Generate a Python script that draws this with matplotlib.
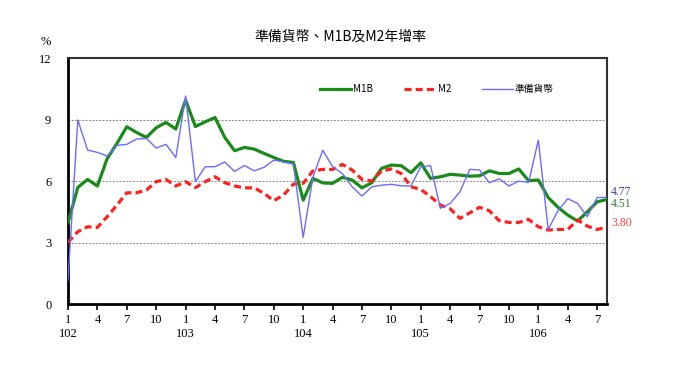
import matplotlib.pyplot as plt
import numpy as np

# 102年1月 ~ 106年8月 (月資料)
years = [102, 103, 104, 105, 106]

m1b = [3.97, 5.69, 6.08, 5.76, 7.10, 7.84, 8.65, 8.37, 8.13, 8.60, 8.86, 8.54,
       9.95, 8.66, 8.89, 9.10, 8.13, 7.48, 7.64, 7.56, 7.35, 7.15, 6.96, 6.91,
       5.07, 6.13, 5.91, 5.89, 6.18, 6.05, 5.67, 5.92, 6.62, 6.78, 6.75, 6.41,
       6.89, 6.13, 6.21, 6.33, 6.29, 6.24, 6.26, 6.50, 6.37, 6.37, 6.59, 6.02,
       6.05, 5.20, 4.72, 4.34, 4.05, 4.50, 4.99, 5.10]

m2 = [3.01, 3.53, 3.77, 3.74, 4.26, 4.83, 5.43, 5.43, 5.56, 5.97, 6.08, 5.76,
      5.97, 5.68, 5.97, 6.21, 5.92, 5.76, 5.67, 5.67, 5.40, 5.04, 5.32, 5.85,
      5.89, 6.50, 6.57, 6.57, 6.81, 6.54, 6.08, 6.00, 6.49, 6.59, 6.37, 5.72,
      5.59, 5.24, 4.83, 4.65, 4.18, 4.45, 4.72, 4.55, 4.07, 3.98, 3.98, 4.13,
      3.77, 3.61, 3.64, 3.64, 4.10, 3.80, 3.64, 3.74]

reserve = [1.17, 8.98, 7.51, 7.40, 7.22, 7.74, 7.79, 8.05, 8.08, 7.61, 7.79, 7.15,
           10.15, 5.97, 6.70, 6.70, 6.93, 6.47, 6.76, 6.50, 6.67, 7.02, 6.94, 6.83,
           3.25, 6.21, 7.50, 6.70, 6.37, 5.72, 5.27, 5.72, 5.80, 5.84, 5.77, 5.76,
           6.70, 6.75, 4.67, 4.91, 5.48, 6.57, 6.54, 5.92, 6.11, 5.76, 6.00, 5.93,
           8.00, 3.64, 4.55, 5.14, 4.91, 4.26, 5.20, 5.20]

# 最新值標示
last_labels = ['4.77', '4.51', '3.80']

plt.rcParams['font.family'] = ['Liberation Serif', 'Noto Sans CJK TC']

x = np.arange(len(m1b))

fig = plt.figure(figsize=(6.8, 3.82), dpi=100)
ax = fig.add_axes([0.1, 0.204, 0.7926, 0.644])

ax.plot(x, m1b, color='#1a8a1a', lw=2.3, label='M1B', zorder=3)
ax.plot(x, m2, color='#ff2020', lw=2.3, ls=(0, (2.2, 1.3)), label='M2', zorder=4)
ax.plot(x, reserve, color='#6a6aff', lw=1.0, label='準備貨幣', zorder=5)

ax.set_xlim(0, len(m1b) - 1)
ax.set_ylim(0, 12)
ax.set_yticks([0, 3, 6, 9, 12])
ax.yaxis.set_tick_params(length=0, pad=12, labelsize=9)
for v in [3, 6, 9]:
    ax.axhline(v, color='#888888', lw=0.7, ls=(0, (2, 1.5)), zorder=1)

# x軸：每季一個刻度，年份放在 1 月下方
ticks = np.arange(0, len(m1b), 3)
labels = []
for t in ticks:
    month = t % 12 + 1
    if month == 1:
        labels.append(f'{month}\n{years[t // 12]}')
    else:
        labels.append(f'{month}\n')
ax.set_xticks(ticks)
ax.set_xticklabels(labels, linespacing=1.3)
ax.xaxis.set_tick_params(length=4, width=1.2, direction='out', labelsize=9, pad=3)

for side in ['left', 'bottom']:
    ax.spines[side].set_linewidth(2.0)
for side in ['top', 'right']:
    ax.spines[side].set_linewidth(1.5)
    ax.spines[side].set_color('#333333')

fig.text(0.5, 0.905, '準備貨幣、M1B及M2年增率', ha='center', va='center', fontsize=10,
         family=['Noto Sans CJK TC'])
fig.text(0.068, 0.89, '%', ha='center', va='center', fontsize=9)

ax.legend(loc='center', bbox_to_anchor=(0.685, 0.874), ncol=3, frameon=False,
          handlelength=3.2, columnspacing=3.2, handletextpad=0.2,
          prop={'family': ['Noto Sans CJK TC'], 'size': 7})

colors = ['#3c3ccc', '#2e7d32', '#ff4040']
ypos = [5.47, 4.87, 3.95]
for lab, c, yy in zip(last_labels, colors, ypos):
    ax.text(1.008, yy, lab, color=c, fontsize=8.5, va='center', ha='left',
            transform=ax.get_yaxis_transform())

fig.savefig('out.png', dpi=100)
